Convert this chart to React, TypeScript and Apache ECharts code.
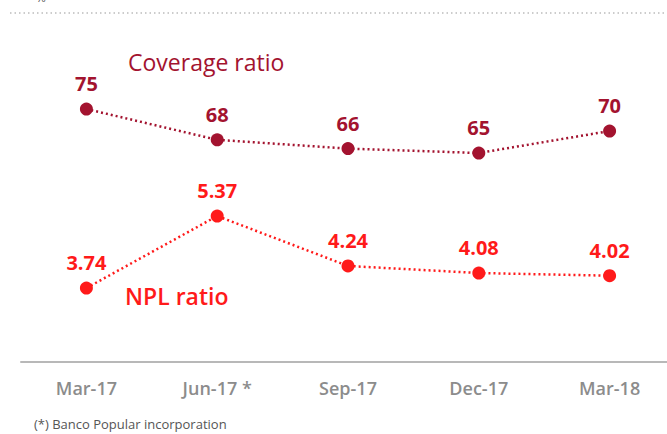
import React, { useEffect, useRef } from "react";
import * as echarts from "echarts";

const categories = ["Mar-17", "Jun-17 *", "Sep-17", "Dec-17", "Mar-18"];
const coverageRatio = [75, 68, 66, 65, 70];
const nplRatio = [3.74, 5.37, 4.24, 4.08, 4.02];

const DARK_RED = "#a3132f";
const RED = "#ff1a1a";
const FONT = "'Open Sans', 'Noto Sans', sans-serif";

export default function App() {
  const ref = useRef<HTMLDivElement>(null);
  useEffect(() => {
    if (!ref.current) return;
    const chart = echarts.init(ref.current, null, { renderer: "svg" });
    chart.setOption({
      animation: false,
      backgroundColor: "#ffffff",
      grid: { left: 21, right: 6, top: 12, bottom: 72 },
      xAxis: {
        type: "category",
        data: categories,
        boundaryGap: true,
        axisLine: { show: true, lineStyle: { color: "#b8b8b8", width: 2 } },
        axisTick: { show: false },
        axisLabel: {
          color: "#8c8c8c",
          fontSize: 18,
          fontWeight: 600,
          fontFamily: FONT,
          margin: 17,
        },
      },
      yAxis: [
        { type: "value", min: 17.5, max: 97.05, show: false, splitLine: { show: false } },
        { type: "value", min: 2.067, max: 9.986, show: false, splitLine: { show: false } },
      ],
      series: [
        {
          name: "Coverage ratio",
          type: "line",
          yAxisIndex: 0,
          data: coverageRatio,
          symbol: "circle",
          symbolSize: 13,
          itemStyle: { color: DARK_RED },
          lineStyle: { color: DARK_RED, width: 2.5, type: [2, 3] },
          label: {
            show: true,
            position: "top",
            distance: 9,
            color: DARK_RED,
            fontSize: 20,
            fontWeight: "bold",
            fontFamily: FONT,
          },
        },
        {
          name: "NPL ratio",
          type: "line",
          yAxisIndex: 1,
          data: nplRatio,
          symbol: "circle",
          symbolSize: 13,
          itemStyle: { color: RED },
          lineStyle: { color: RED, width: 2.5, type: [2, 3] },
          label: {
            show: true,
            position: "top",
            distance: 9,
            color: RED,
            fontSize: 20,
            fontWeight: "bold",
            fontFamily: FONT,
            formatter: (p: any) => p.value.toFixed(2),
          },
        },
      ],
      graphic: [
        {
          type: "line",
          shape: { x1: 10, y1: 13, x2: 667, y2: 13 },
          style: { stroke: "#9a9a9a", lineWidth: 1.2, lineDash: [1.5, 3] },
        },
        {
          type: "text",
          left: 36,
          top: -9,
          style: { text: "%", fill: "#555", font: `12px ${FONT}` },
        },
        {
          type: "text",
          left: 128,
          top: 50,
          style: { text: "Coverage ratio", fill: DARK_RED, font: `500 23px ${FONT}` },
        },
        {
          type: "text",
          left: 125,
          top: 284,
          style: { text: "NPL ratio", fill: RED, font: `600 23px ${FONT}` },
        },
        {
          type: "text",
          left: 34,
          top: 417,
          style: { text: "(*) Banco Popular incorporation", fill: "#555", font: `13px ${FONT}` },
        },
      ],
    });
    return () => chart.dispose();
  }, []);
  return (
    <div style={{ position: "fixed", left: 0, top: 0, width: 667, height: 434, overflow: "hidden" }}>
      <div ref={ref} style={{ width: 681, height: 434 }} />
    </div>
  );
}
